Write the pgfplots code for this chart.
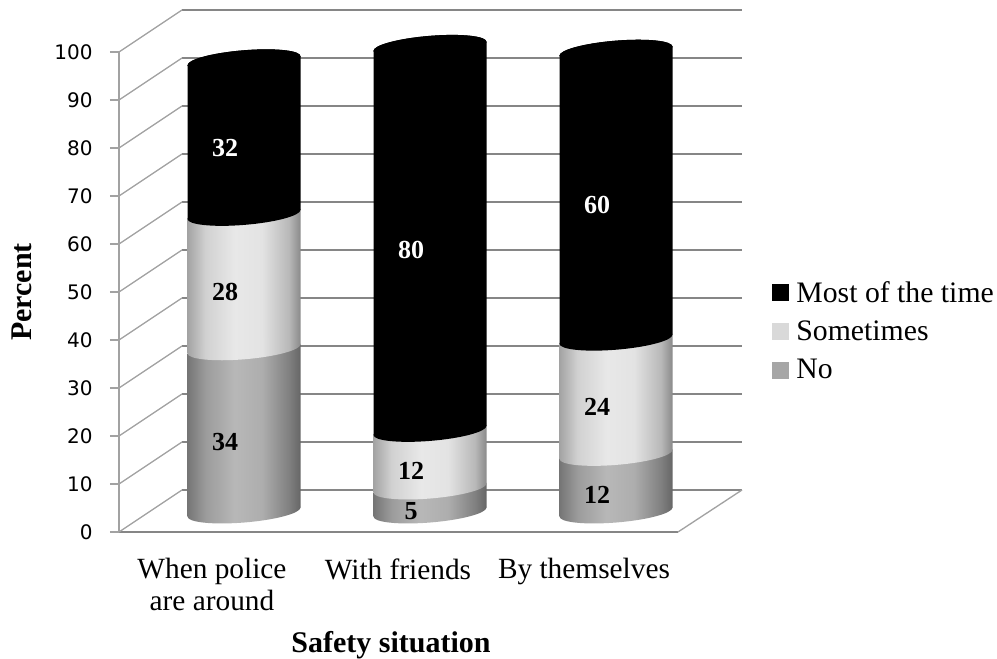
\documentclass[border=0pt]{standalone}
\usepackage{fontspec}
\usepackage{pgfplots}
\usepackage{pgfplotstable}
\pgfplotsset{compat=1.18}
\setmainfont{Liberation Serif}
\newfontfamily\tickfont{DejaVu Sans}

\definecolor{wall}{HTML}{868686}
\definecolor{wallside}{HTML}{A2A2A2}
\definecolor{legNo}{HTML}{A6A6A6}
\definecolor{legSome}{HTML}{D9D9D9}

% Cylinder body shadings: the box of a shaded path spans 25bp to 75bp
\pgfdeclarehorizontalshading{shNo}{100bp}{color(0bp)=(black!54); color(25bp)=(black!54); color(33bp)=(black!39); color(46bp)=(black!28); color(58bp)=(black!32); color(70bp)=(black!50); color(75bp)=(black!60); color(100bp)=(black!60)}
\pgfdeclarehorizontalshading{shSome}{100bp}{color(0bp)=(black!36); color(25bp)=(black!36); color(33bp)=(black!18); color(46bp)=(black!9); color(58bp)=(black!11); color(70bp)=(black!28); color(75bp)=(black!46); color(100bp)=(black!46)}
\pgfdeclarehorizontalshading{shMost}{100bp}{color(0bp)=(black); color(100bp)=(black)}

% Elliptical caps that round off the cylinder segments, sheared with the floor
\newcommand{\capoutline}{(-42.4pt,-3.392pt) .. controls (-42.4pt,-7.752pt) and (-23.42pt,-9.774pt) .. (0pt,-7.9pt) .. controls (23.42pt,-6.026pt) and (42.4pt,-0.968pt) .. (42.4pt,3.392pt) .. controls (42.4pt,7.752pt) and (23.42pt,9.774pt) .. (0pt,7.9pt) .. controls (-23.42pt,6.026pt) and (-42.4pt,0.968pt) .. cycle}
\pgfdeclareplotmark{capNo}{\path[shade, shading=shNo] \capoutline;}
\pgfdeclareplotmark{capSome}{\path[shade, shading=shSome] \capoutline;}
\pgfdeclareplotmark{capMost}{\path[shade, shading=shMost] \capoutline;}

% One table per safety situation: left edge, axis and right edge of the cylinder;
% the base column holds the tilt of its foot in the projection
\pgfplotstableread{
x     base  no some most
36.5  -0.94 34 28   32
93     0    34 28   32
149.5  0.94 34 28   32
}\tblPolice
\pgfplotstableread{
x     base  no some most
222.5 -0.94 5  12   80
279    0    5  12   80
335.5  0.94 5  12   80
}\tblFriends
\pgfplotstableread{
x     base  no some most
408.5 -0.94 12 24   60
465    0    12 24   60
521.5  0.94 12 24   60
}\tblThemselves
% Value labels: position on the cylinder and the value stated
\pgfplotstableread{
x   y    v
74  14.6 34
74  45.8 28
260 8.5  12
260 0.2  5
446 3.5  12
446 21.9 24
}\tblDark
\pgfplotstableread{
x   y    v
74  75.8 32
260 54.6 80
446 64.0 60
}\tblLight

\pgfplotsset{
  frame/.style={
    scale only axis, width=419.25pt, height=360pt,
    xmin=0, xmax=559, ymin=0, ymax=100, clip=false,
  },
  overlay frame/.style={frame, axis lines=none,
    at={(113.25pt,110.25pt)}, anchor=south west},
}

% A stacked cylinder, set halfway back into the box
\newcommand{\cylinder}[1]{%
  \begin{axis}[overlay frame, stack plots=y, mark indices={2}]
  \addplot[draw=none, mark=capNo] table[x=x, y=base] {#1};
  \addplot[draw=none, shade, shading=shNo, mark=capSome] table[x=x, y=no] {#1} \closedcycle;
  \addplot[draw=none, shade, shading=shSome, mark=capMost] table[x=x, y=some] {#1} \closedcycle;
  \addplot[draw=none, fill=black, mark=capMost] table[x=x, y=most] {#1} \closedcycle;
  \end{axis}%
}

\begin{document}
\begin{tikzpicture}
\useasboundingbox (0,0) rectangle (747.75pt,494.25pt);

% Chart box with walls, floor, scale and legend
\begin{axis}[frame,
  at={(89.25pt,95.25pt)}, anchor=south west,
  axis y line*=left, axis x line*=bottom,
  axis line style={color=wall, line width=1pt, -},
  y axis line style={color=wallside},
  ytick={0,10,...,100},
  ytick style={color=wallside, line width=1pt},
  tick align=outside, major tick length=6.75pt,
  xtick={93,279,465},
  xticklabels={{When police\\are around},{With friends},{By themselves}},
  xtick style={draw=none},
  xticklabel style={align=center, font=\fontsize{22}{23.6}\selectfont, yshift=-9.5pt},
  yticklabel style={font=\tickfont\fontsize{15}{16}\selectfont, /pgf/number format/assume math mode=true, xshift=-9.5pt},
  xlabel={Safety situation},
  ylabel={Percent},
  x label style={at={(axis description cs:0.4866,-0.235)}, anchor=center, font=\bfseries\fontsize{22.5}{24}\selectfont},
  y label style={at={(axis description cs:-0.1735,0.5)}, anchor=center, font=\bfseries\fontsize{22.5}{24}\selectfont},
  legend style={at={(1.168,0.419)}, anchor=west, draw=none, fill=none,
    font=\fontsize{22.3}{24}\selectfont, row sep=8.5pt,
    inner sep=0pt, outer sep=0pt,
    /tikz/every odd column/.append style={column sep=4pt}},
  legend cell align=left,
]
\pgfplotsinvokeforeach{0,10,...,100}{
  \addplot[forget plot, wall, line width=1.1pt] coordinates {(63,{#1+8.75}) (623,{#1+8.75})};
  \addplot[forget plot, wallside, line width=1pt] coordinates {(0,#1) (63,{#1+8.75})};
}
\addplot[forget plot, wallside, line width=1pt] coordinates {(559,0) (623,8.75)};
\addlegendimage{legend image code/.code={\fill[black] (0,-6pt) rectangle (12pt,6pt);}}
\addlegendentry{Most of the time}
\addlegendimage{legend image code/.code={\fill[legSome] (0,-6pt) rectangle (12pt,6pt);}}
\addlegendentry{Sometimes}
\addlegendimage{legend image code/.code={\fill[legNo] (0,-6pt) rectangle (12pt,6pt);}}
\addlegendentry{No}
\end{axis}

\cylinder{\tblPolice}
\cylinder{\tblFriends}
\cylinder{\tblThemselves}

% Value labels
\begin{axis}[overlay frame,
  nodes near coords, point meta=explicit symbolic,
  nodes near coords style={anchor=center, font=\bfseries\fontsize{19.5}{22}\selectfont},
]
\addplot[draw=none, mark=none, text=black] table[x=x, y=y, meta=v] {\tblDark};
\addplot[draw=none, mark=none, text=white] table[x=x, y=y, meta=v] {\tblLight};
\end{axis}
\end{tikzpicture}
\end{document}
